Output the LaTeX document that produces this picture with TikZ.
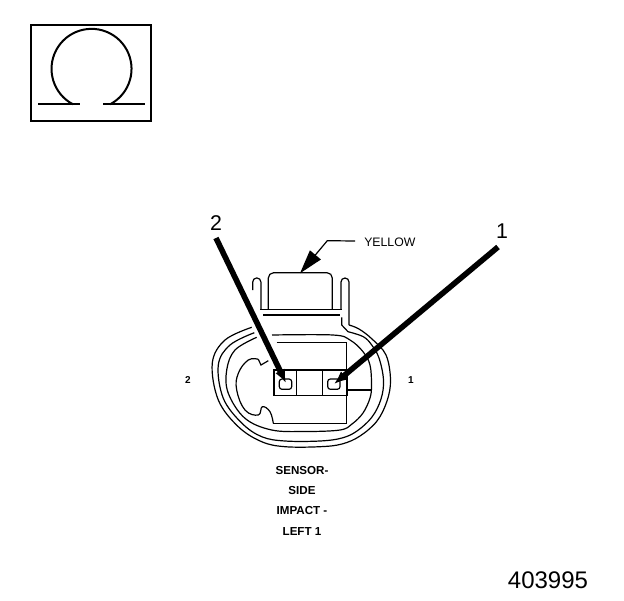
\documentclass[tikz,border=0pt]{standalone}
\usepackage{fontspec}
\setmainfont{Liberation Sans}
\usetikzlibrary{arrows.meta}
\tikzstyle{none}=[inner sep=0pt]
\tikzstyle{outline}=[draw=black,line width=0.9]
\tikzstyle{frame}=[draw=black,line width=1.9]
\tikzstyle{pointer}=[-{Latex[length=10,width=8]},draw=black,line width=4.2]
\tikzstyle{leader}=[-{Triangle[length=18,width=10.5]},draw=black,line width=0.9]
\begin{document}
\begin{tikzpicture}[x=0.75pt,y=-0.75pt]
 \useasboundingbox (0,0) rectangle (624,600);
 % omega box
 \draw [style=frame] (31,25) rectangle (151,121);
 \draw [style=frame,line width=1.5] (38,104.3) to (80,104.3);
 \draw [style=frame,line width=1.5] (103,104.3) to (145,104.3);
 \draw [style=frame,line width=1.5] (73,104.3) arc (117.6:422.4:40);
 % labels
 \node [style=none,font=\fontsize{16}{16}\selectfont] (num2) at (216,223) {2};
 \node [style=none,font=\fontsize{16}{16}\selectfont] (num1) at (502,231) {1};
 \node [style=none,font=\fontsize{9.2}{9.2}\selectfont,anchor=west] (yellow) at (364,242) {YELLOW};
 \node [style=none,font=\bfseries\fontsize{7.5}{7.5}\selectfont] (side2) at (188,380) {2};
 \node [style=none,font=\bfseries\fontsize{7.5}{7.5}\selectfont] (side1) at (411,380) {1};
 \node [style=none,font=\bfseries\fontsize{8.7}{8.7}\selectfont] (name1) at (302,470) {SENSOR-};
 \node [style=none,font=\bfseries\fontsize{8.7}{8.7}\selectfont] (name2) at (302,490.5) {SIDE};
 \node [style=none,font=\bfseries\fontsize{8.7}{8.7}\selectfont] (name3) at (302,510.5) {IMPACT -};
 \node [style=none,font=\bfseries\fontsize{8.7}{8.7}\selectfont] (name4) at (302,531) {LEFT 1};
 \node [style=none,font=\fontsize{18}{18}\selectfont] (partno) at (548,580) {403995};
 % plug on top
 \draw [style=outline,rounded corners=4] (268.3,309.3) to (268.3,272.7) to (332.3,272.7) to (332.3,309.3);
 \draw [style=outline] (260,309.3) to (341.7,309.3);
 \draw [style=outline] (263,315) to (340,315);
 \draw [style=outline] (252.7,290) to (252.7,282) arc (180:360:4.1) to (261,309.3);
 \draw [style=outline] (341,309.3) to (341,282) arc (180:360:4) to (349,325);
 % rings
 \draw [style=outline] plot [smooth,tension=0.6] coordinates {(251.7,327.3) (225,340) (212.3,363) (218.3,400) (238.3,426.7) (261.7,441.7) (285,446.7) (320,446.7) (342,444) (360,436) (377,421) (387,401) (390.5,380) (386,355) (372,339) (359,329) (349,325)};
 \draw [style=outline] plot [smooth,tension=0.6] coordinates {(254.3,332.7) (230,345) (218.3,365) (223.3,398.3) (241.7,423) (261.7,436.7) (285,441) (320,441) (342,438) (357,431) (372,417) (381,399) (383.5,380) (379,358) (371.7,345) (363.3,336.7) (348,331.7)};
 \draw [style=outline] (348,331.7) to (341.7,325) to (341.7,317.3);
 \draw [style=outline] plot [smooth,tension=0.6] coordinates {(256.7,337.3) (235,350) (226.7,370) (228.3,393.3) (245,418.3) (271.7,430) (305,431.5) (340,430) (352,424) (363,413) (370,398) (371.5,385) (370,365) (363,351.7) (350,340) (333,335) (272,335)};
 % inner body
 \draw [style=outline] (276.7,342.7) to (346.7,342.7) to (346.7,423.3) to (273.3,423.3);
 \draw [style=outline] plot [smooth,tension=0.7] coordinates {(273.3,423.3) (270,411.7) (262.3,406.7) (258.3,415) (245,410) (236.7,390) (238.3,373.3) (248.3,360) (258.3,359.3)};
 \draw [style=outline] (258.3,359.3) to (261,365) to (268.3,360.7);
 \draw [style=outline] (347,390) to (371.5,390);
 % contact block
 \draw [style=outline] (274,370) rectangle (347.3,395.7);
 \draw [style=outline] (296.7,370) to (296.7,395.7);
 \draw [style=outline] (322.3,370) to (322.3,395.7);
 \draw [style=outline,rounded corners=2] (279.3,379) rectangle (291.7,389.3);
 \draw [style=outline,rounded corners=2] (327.7,379) rectangle (340,389.3);
 % arrows
 \coordinate (tip2) at (286,383);
 \coordinate (tip1) at (334,384);
 \coordinate (start2) at (216,238);
 \coordinate (start1) at (498,247);
 \coordinate (bend) at (327.3,240.7);
 \coordinate (tip3) at (300,273.3);
 \draw [style=pointer] (start2) to (tip2);
 \draw [style=pointer] (start1) to (tip1);
 \draw [style=leader] (yellow.west) ++(-9,-1) to (bend) to (tip3);
\end{tikzpicture}
\end{document}
